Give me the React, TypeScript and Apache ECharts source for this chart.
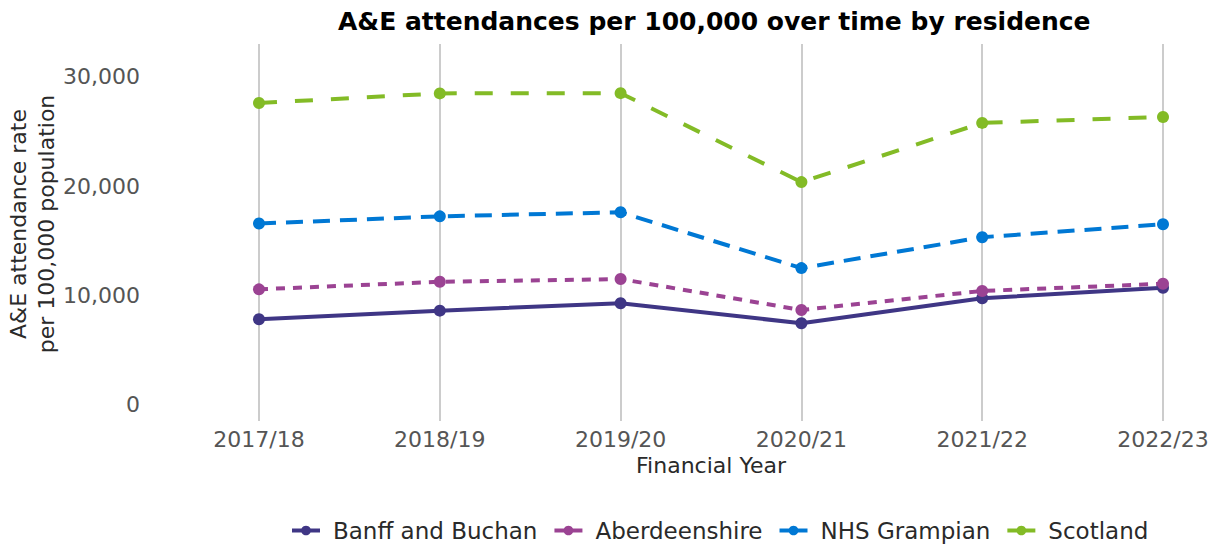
import React, { useEffect, useRef } from "react";
import * as echarts from "echarts";

const years = ["2017/18", "2018/19", "2019/20", "2020/21", "2021/22", "2022/23"];
const banffAndBuchan = [7810, 8600, 9270, 7450, 9730, 10700];
const aberdeenshire = [10550, 11240, 11490, 8660, 10400, 11060];
const nhsGrampian = [16570, 17230, 17600, 12490, 15320, 16500];
const scotland = [27600, 28480, 28500, 20360, 25780, 26320];
const yTicks = [0, 10000, 20000, 30000];

const FONT = "DejaVu Sans";

export default function App() {
  const ref = useRef<HTMLDivElement>(null);
  useEffect(() => {
    if (!ref.current) return;
    const chart = echarts.init(ref.current, null, { renderer: "svg" });
    const mk = (name: string, data: number[], color: string, type: any, width: number) => ({
      name,
      type: "line",
      data,
      symbol: "circle",
      symbolSize: 12,
      itemStyle: { color },
      lineStyle: { color, width, type },
      emphasis: { disabled: true },
    });
    chart.setOption({
      animation: false,
      textStyle: { fontFamily: FONT },
      title: {
        text: "A&E attendances per 100,000 over time by residence",
        left: 333,
        top: 4,
        textStyle: { fontFamily: FONT, fontSize: 25, fontWeight: "bold", color: "#000" },
      },
      legend: {
        left: 290,
        top: 519,
        padding: 0,
        itemWidth: 28,
        itemHeight: 12,
        itemGap: 15,
        lineStyle: { type: "solid", width: 4 },
        textStyle: { fontFamily: FONT, fontSize: 23, color: "#2a2a2a", padding: [0, 0, 0, 8] },
        data: ["Banff and Buchan", "Aberdeenshire", "NHS Grampian", "Scotland"],
      },
      grid: { left: 259, right: 53, top: 44, bottom: 126 },
      xAxis: {
        type: "category",
        data: years,
        boundaryGap: false,
        axisLine: { show: false },
        axisTick: { show: false },
        axisLabel: { fontFamily: FONT, fontSize: 22, color: "#555", margin: 7 },
        splitLine: { show: true, lineStyle: { color: "#cccccc", width: 2 } },
        name: "Financial Year",
        nameLocation: "middle",
        nameGap: 33,
        nameTextStyle: { fontFamily: FONT, fontSize: 22, color: "#2a2a2a" },
      },
      yAxis: {
        type: "value",
        min: -1500,
        max: 33000,
        axisLine: { show: false },
        axisTick: { show: false },
        splitLine: { show: false },
        axisLabel: {
          customValues: yTicks,
          fontFamily: FONT,
          fontSize: 22,
          color: "#555",
          margin: 119,
          formatter: (v: number) => v.toLocaleString("en-US"),
        },
      },
      graphic: [
        {
          type: "text",
          x: 32,
          y: 224,
          rotation: Math.PI / 2,
          style: {
            text: "A&E attendance rate\nper 100,000 population",
            align: "center",
            verticalAlign: "middle",
            fontFamily: FONT,
            fontSize: 22,
            lineHeight: 28,
            fill: "#2a2a2a",
          },
        },
      ],
      series: [
        mk("Banff and Buchan", banffAndBuchan, "#3f3685", "solid", 4),
        mk("Aberdeenshire", aberdeenshire, "#9b4393", [9, 8], 4),
        mk("NHS Grampian", nhsGrampian, "#0078d4", [17, 10], 4),
        mk("Scotland", scotland, "#83bb26", [18, 18], 4),
      ],
    });
    return () => chart.dispose();
  }, []);
  return <div ref={ref} style={{ width: 1216, height: 547, marginLeft: -8, marginTop: -8 }} />;
}
